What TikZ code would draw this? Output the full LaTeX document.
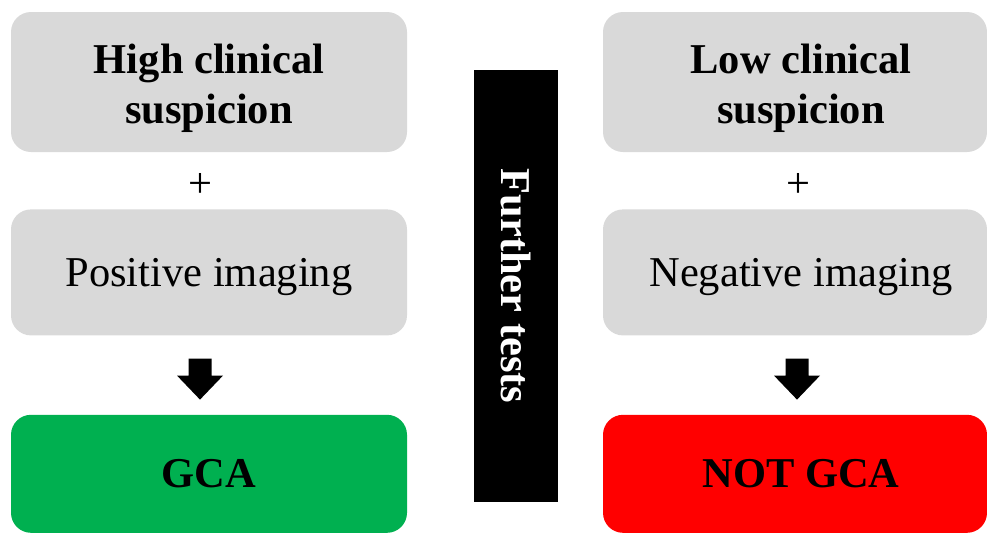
\documentclass[tikz,border=0pt]{standalone}
\usepackage{fontspec}
\setmainfont{Liberation Serif}
\usepackage{xcolor}
\definecolor{cBox}{HTML}{D9D9D9}
\definecolor{cYes}{HTML}{00B050}
\definecolor{cNo}{HTML}{FF0000}
\usepackage{tikz}
\usetikzlibrary{positioning,calc}
\newcommand{\bigfont}{\fontsize{42.5}{50}\selectfont}
% text of a box: [right shift]{drop}{lines}
\newcommand{\boxtext}[3][0pt]{%
  \raisebox{-#2}[\height][\depth]{\hspace*{#1}\begin{tabular}{@{}c@{}}#3\end{tabular}}}
\tikzset{
  node-box/.style={fill=cBox,rounded corners=20pt,minimum width=396pt,
    inner sep=0pt,align=center,font=\bigfont},
  node-head/.style={node-box,minimum height=140pt,font=\bigfont\bfseries},
  node-img/.style={node-box,minimum height=126pt},
  node-yes/.style={node-box,fill=cYes,minimum height=118pt,font=\bigfont\bfseries},
  node-no/.style={node-box,fill=cNo,minimum height=118pt,font=\bigfont\bfseries},
  node-plus/.style={inner sep=0pt,font=\bigfont},
  node-bar/.style={fill=black,text=white,minimum width=84pt,minimum height=432pt,
    inner sep=0pt,font=\bigfont\bfseries},
}
% block arrow pointing down, centred on a coordinate
\newcommand{\blockdown}[1]{%
  \fill[black] ($(#1)+(-11.5pt,20.5pt)$) -- ++(23pt,0) -- ++(0,-17pt)
    -- ++(11.5pt,0) -- ($(#1)+(0,-20.5pt)$) -- ($(#1)+(-23pt,3.5pt)$)
    -- ++(11.5pt,0) -- cycle;}

\begin{document}
\begin{tikzpicture}[x=1pt,y=-1pt]
  \useasboundingbox (0,0) rectangle (987,533);
  % left column
  \node[node-head]                       (hi)     at (209,82)  {\boxtext{6pt}{High clinical\\suspicion}};
  \node[node-plus]                       (hi-and) at (200,185) {+};
  \node[node-img,below=57pt of hi]       (pos)    {\boxtext{4pt}{Positive imaging}};
  \node[node-yes,below=79pt of pos]      (gca)    {\boxtext{4pt}{GCA}};
  \coordinate (pos-go) at ($(pos.south)!0.5!(gca.north)+(-9pt,-4pt)$);
  \blockdown{pos-go}
  % right column
  \node[node-head,minimum width=384pt]   (lo)     at (795,82)  {\boxtext[12pt]{6pt}{Low clinical\\suspicion}};
  \node[node-plus]                       (lo-and) at (798,185) {+};
  \node[node-img,minimum width=384pt,below=57pt of lo]  (neg)  {\boxtext[12pt]{4pt}{Negative imaging}};
  \node[node-no,minimum width=384pt,below=79pt of neg]  (notgca) {\boxtext[12pt]{4pt}{NOT GCA}};
  \coordinate (neg-go) at ($(neg.south)!0.5!(notgca.north)+(2pt,-4pt)$);
  \blockdown{neg-go}
  % middle bar
  \node[node-bar] (more) at (516,286) {\rotatebox{-90}{Further tests}};
\end{tikzpicture}
\end{document}
